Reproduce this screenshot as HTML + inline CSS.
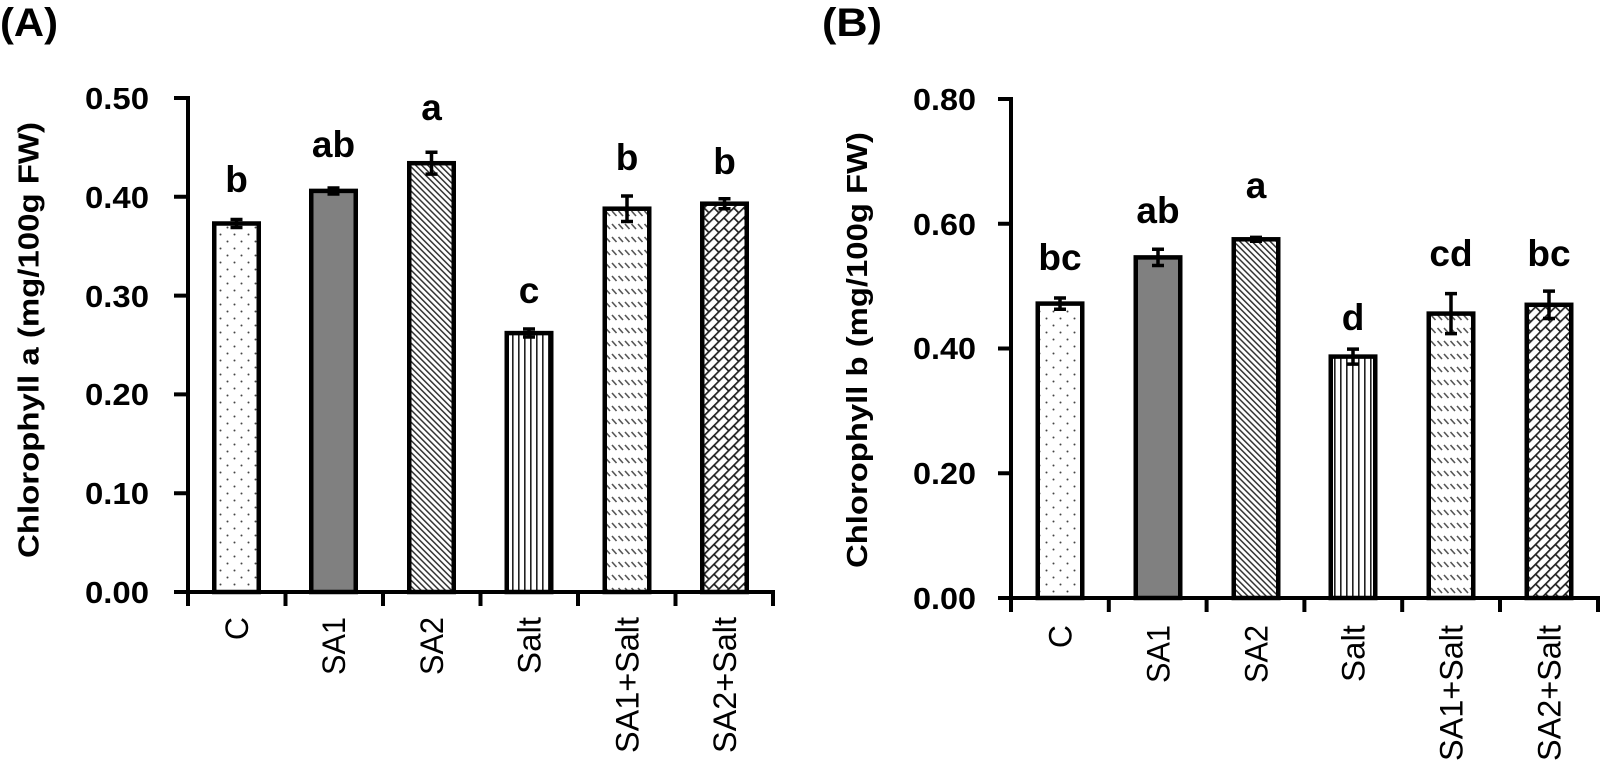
<!DOCTYPE html>
<html>
<head>
<meta charset="utf-8">
<style>
  html,body{margin:0;padding:0;background:#fff;}
  svg{display:block;}
  text{font-family:"Liberation Sans", Arial, sans-serif;fill:#000;}
  .tk{font-size:31px;font-weight:bold;text-anchor:end;}
  .lt{font-size:37px;font-weight:bold;text-anchor:middle;}
  .xl{font-size:32px;font-weight:normal;text-anchor:end;}
  .ti{font-size:29px;font-weight:bold;text-anchor:middle;}
  .pn{font-size:40px;font-weight:bold;}
</style>
</head>
<body>
<svg width="1606" height="767" viewBox="0 0 1606 767" xmlns="http://www.w3.org/2000/svg">
  <defs>
    <pattern id="pDots" width="14" height="14" patternUnits="userSpaceOnUse">
      <rect width="14" height="14" fill="#fff"/>
      <circle cx="3.5" cy="3.5" r="1" fill="#444"/>
      <circle cx="10.5" cy="10.5" r="1" fill="#444"/>
    </pattern>
    <pattern id="pDiag" width="4.3" height="4.3" patternUnits="userSpaceOnUse" patternTransform="rotate(-45)">
      <rect width="4.3" height="4.3" fill="#fff"/>
      <rect x="0" y="0" width="1.5" height="4.3" fill="#333"/>
    </pattern>
    <pattern id="pVert" width="6" height="6" patternUnits="userSpaceOnUse">
      <rect width="6" height="6" fill="#fff"/>
      <rect x="2" y="0" width="1.6" height="6" fill="#222"/>
    </pattern>
    <pattern id="pDash" width="6.5" height="13" patternUnits="userSpaceOnUse">
      <rect width="6.5" height="13" fill="#fff"/>
      <line x1="1" y1="3" x2="5.5" y2="8" stroke="#555" stroke-width="1.6"/>
    </pattern>
    <pattern id="pBrick" width="14" height="14" patternUnits="userSpaceOnUse" patternTransform="rotate(-45)">
      <rect width="14" height="14" fill="#fff"/>
      <rect x="0" y="0" width="14" height="1.7" fill="#222"/>
      <rect x="0" y="7" width="14" height="1.7" fill="#222"/>
      <rect x="0" y="0" width="1.7" height="7" fill="#222"/>
      <rect x="7" y="7" width="1.7" height="7" fill="#222"/>
    </pattern>
  </defs>

  <rect width="1606" height="767" fill="#fff"/>

  <!-- Panel labels -->
  <text class="pn" x="0" y="36" textLength="58" lengthAdjust="spacingAndGlyphs">(A)</text>
  <text class="pn" x="822" y="36" textLength="60" lengthAdjust="spacingAndGlyphs">(B)</text>

  <!-- ================= LEFT CHART ================= -->
  <text class="ti" transform="translate(38.5,340) rotate(-90)" textLength="436" lengthAdjust="spacingAndGlyphs">Chlorophyll  a (mg/100g FW)</text>

  <text class="tk" x="149" y="109" textLength="64" lengthAdjust="spacingAndGlyphs">0.50</text>
  <text class="tk" x="149" y="208" textLength="64" lengthAdjust="spacingAndGlyphs">0.40</text>
  <text class="tk" x="149" y="307" textLength="64" lengthAdjust="spacingAndGlyphs">0.30</text>
  <text class="tk" x="149" y="405" textLength="64" lengthAdjust="spacingAndGlyphs">0.20</text>
  <text class="tk" x="149" y="504" textLength="64" lengthAdjust="spacingAndGlyphs">0.10</text>
  <text class="tk" x="149" y="603" textLength="64" lengthAdjust="spacingAndGlyphs">0.00</text>

  <g stroke="#000" stroke-width="4.5">
    <rect x="214.25" y="223.5" width="44.5" height="368.5" fill="url(#pDots)"/>
    <rect x="311.25" y="190.9" width="44.5" height="401.1" fill="#808080"/>
    <rect x="409.25" y="163.2" width="44.5" height="428.8" fill="url(#pDiag)"/>
    <rect x="506.75" y="333.1" width="44.5" height="258.9" fill="url(#pVert)"/>
    <rect x="604.75" y="208.7" width="44.5" height="383.3" fill="url(#pDash)"/>
    <rect x="702.25" y="203.7" width="44.5" height="388.3" fill="url(#pBrick)"/>
  </g>

  <g stroke="#000" stroke-width="3.5" fill="none">
    <path d="M236.5 219.5V227.5M230.5 219.5H242.5M230.5 227.5H242.5"/>
    <path d="M333.5 188V194M327.5 188H339.5M327.5 194H339.5"/>
    <path d="M431.5 152.3V174.1M425.5 152.3H437.5M425.5 174.1H437.5"/>
    <path d="M529 329V337M523 329H535M523 337H535"/>
    <path d="M627 196V221.5M621 196H633M621 221.5H633"/>
    <path d="M724.5 198.7V208.7M718.5 198.7H730.5M718.5 208.7H730.5"/>
  </g>

  <g stroke="#000" stroke-width="4" fill="none" stroke-linecap="square">
    <path d="M188 98V604"/>
    <path d="M176 98H188M176 196.8H188M176 295.6H188M176 394.4H188M176 493.2H188"/>
    <path d="M176 592H773V604"/>
    <path d="M285.5 592V604M383 592V604M480.5 592V604M578 592V604M675.5 592V604"/>
  </g>

  <text class="lt" x="236.5" y="192">b</text>
  <text class="lt" x="333.5" y="157">ab</text>
  <text class="lt" x="431.5" y="120">a</text>
  <text class="lt" x="529" y="303">c</text>
  <text class="lt" x="627" y="170">b</text>
  <text class="lt" x="724.5" y="174">b</text>

  <text class="xl" transform="translate(248,617) rotate(-90)">C</text>
  <text class="xl" transform="translate(345,617) rotate(-90)" textLength="58" lengthAdjust="spacingAndGlyphs">SA1</text>
  <text class="xl" transform="translate(443,617) rotate(-90)" textLength="58" lengthAdjust="spacingAndGlyphs">SA2</text>
  <text class="xl" transform="translate(540.5,617) rotate(-90)" textLength="57" lengthAdjust="spacingAndGlyphs">Salt</text>
  <text class="xl" transform="translate(638.5,617) rotate(-90)" textLength="136" lengthAdjust="spacingAndGlyphs">SA1+Salt</text>
  <text class="xl" transform="translate(736,617) rotate(-90)" textLength="136" lengthAdjust="spacingAndGlyphs">SA2+Salt</text>

  <!-- ================= RIGHT CHART ================= -->
  <text class="ti" transform="translate(867,350) rotate(-90)" textLength="436" lengthAdjust="spacingAndGlyphs">Chlorophyll  b (mg/100g FW)</text>

  <text class="tk" x="976" y="110" textLength="63" lengthAdjust="spacingAndGlyphs">0.80</text>
  <text class="tk" x="976" y="235" textLength="63" lengthAdjust="spacingAndGlyphs">0.60</text>
  <text class="tk" x="976" y="359" textLength="63" lengthAdjust="spacingAndGlyphs">0.40</text>
  <text class="tk" x="976" y="484" textLength="63" lengthAdjust="spacingAndGlyphs">0.20</text>
  <text class="tk" x="976" y="609" textLength="63" lengthAdjust="spacingAndGlyphs">0.00</text>

  <g stroke="#000" stroke-width="4.5">
    <rect x="1037.75" y="303.6" width="44.5" height="294.4" fill="url(#pDots)"/>
    <rect x="1135.75" y="257.4" width="44.5" height="340.6" fill="#808080"/>
    <rect x="1233.75" y="239.3" width="44.5" height="358.7" fill="url(#pDiag)"/>
    <rect x="1330.75" y="356.6" width="44.5" height="241.4" fill="url(#pVert)"/>
    <rect x="1428.75" y="313.6" width="44.5" height="284.4" fill="url(#pDash)"/>
    <rect x="1526.75" y="304.8" width="44.5" height="293.2" fill="url(#pBrick)"/>
  </g>

  <g stroke="#000" stroke-width="3.5" fill="none">
    <path d="M1060 298V309.2M1054 298H1066M1054 309.2H1066"/>
    <path d="M1158 249.3V265.5M1152 249.3H1164M1152 265.5H1164"/>
    <path d="M1256 237.4V241.2M1250 237.4H1262M1250 241.2H1262"/>
    <path d="M1353 349.1V364.1M1347 349.1H1359M1347 364.1H1359"/>
    <path d="M1451 293.6V333.6M1445 293.6H1457M1445 333.6H1457"/>
    <path d="M1549 291.1V318.5M1543 291.1H1555M1543 318.5H1555"/>
  </g>

  <g stroke="#000" stroke-width="4" fill="none" stroke-linecap="square">
    <path d="M1011 99V610"/>
    <path d="M1000 99H1011M1000 223.75H1011M1000 348.5H1011M1000 473.25H1011"/>
    <path d="M1000 598H1598V610"/>
    <path d="M1108.8 598V610M1206.6 598V610M1304.4 598V610M1402.2 598V610M1500 598V610"/>
  </g>

  <text class="lt" x="1060" y="270">bc</text>
  <text class="lt" x="1158" y="223">ab</text>
  <text class="lt" x="1256" y="198">a</text>
  <text class="lt" x="1353" y="330">d</text>
  <text class="lt" x="1451" y="266">cd</text>
  <text class="lt" x="1549" y="266">bc</text>

  <text class="xl" transform="translate(1071.5,625) rotate(-90)">C</text>
  <text class="xl" transform="translate(1169.5,625) rotate(-90)" textLength="58" lengthAdjust="spacingAndGlyphs">SA1</text>
  <text class="xl" transform="translate(1267.5,625) rotate(-90)" textLength="58" lengthAdjust="spacingAndGlyphs">SA2</text>
  <text class="xl" transform="translate(1364.5,625) rotate(-90)" textLength="57" lengthAdjust="spacingAndGlyphs">Salt</text>
  <text class="xl" transform="translate(1462.5,625) rotate(-90)" textLength="136" lengthAdjust="spacingAndGlyphs">SA1+Salt</text>
  <text class="xl" transform="translate(1560.5,625) rotate(-90)" textLength="136" lengthAdjust="spacingAndGlyphs">SA2+Salt</text>
</svg>
</body>
</html>
